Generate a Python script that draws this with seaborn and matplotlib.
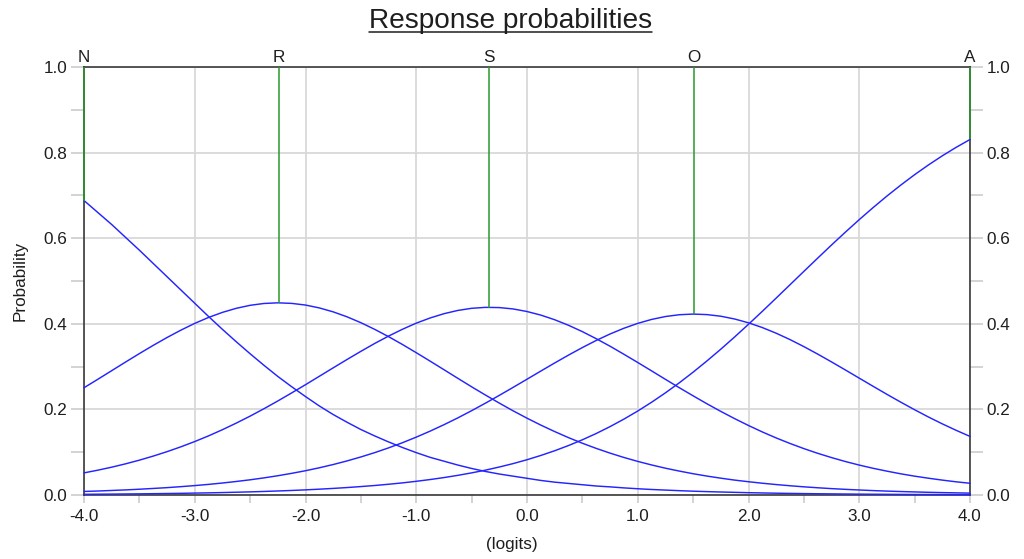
import matplotlib
matplotlib.use("Agg")
import matplotlib.pyplot as plt
from matplotlib.lines import Line2D
from matplotlib.ticker import MultipleLocator, FormatStrFormatter
import seaborn as sns
import pandas as pd

# Category probability curves over the latent measure
logits = [-4.0, -3.875, -3.75, -3.625, -3.5, -3.375, -3.25, -3.125,
          -3.0, -2.875, -2.75, -2.625, -2.5, -2.375, -2.25, -2.125,
          -2.0, -1.875, -1.75, -1.625, -1.5, -1.375, -1.25, -1.125,
          -1.0, -0.875, -0.75, -0.625, -0.5, -0.375, -0.25, -0.125,
          0.0, 0.125, 0.25, 0.375, 0.5, 0.625, 0.75, 0.875,
          1.0, 1.125, 1.25, 1.375, 1.5, 1.625, 1.75, 1.875,
          2.0, 2.125, 2.25, 2.375, 2.5, 2.625, 2.75, 2.875,
          3.0, 3.125, 3.25, 3.375, 3.5, 3.625, 3.75, 3.875, 4.0]
prob_N = [0.688, 0.660, 0.632, 0.602, 0.572, 0.541, 0.510, 0.479,
          0.448, 0.417, 0.387, 0.358, 0.330, 0.303, 0.277, 0.253,
          0.230, 0.208, 0.188, 0.170, 0.153, 0.138, 0.124, 0.111,
          0.099, 0.088, 0.079, 0.070, 0.062, 0.055, 0.049, 0.044,
          0.039, 0.034, 0.030, 0.027, 0.024, 0.021, 0.019, 0.0166,
          0.0146, 0.0129, 0.0115, 0.0101, 0.0089, 0.0079, 0.0070, 0.0062,
          0.0054, 0.0048, 0.0042, 0.0037, 0.0033, 0.0029, 0.0026, 0.0023,
          0.0020, 0.0018, 0.0016, 0.0014, 0.0012, 0.0011, 0.0010, 0.0008, 0.0007]
prob_R = [0.2506, 0.2704, 0.2905, 0.3106, 0.3304, 0.3496, 0.3680, 0.3852,
          0.4010, 0.4149, 0.4267, 0.4362, 0.4432, 0.4475, 0.4490, 0.4477,
          0.4438, 0.4371, 0.4279, 0.4163, 0.4026, 0.3870, 0.3700, 0.3517,
          0.3325, 0.3128, 0.2928, 0.2727, 0.2528, 0.2335, 0.2147, 0.1966,
          0.1795, 0.1633, 0.1482, 0.1340, 0.1209, 0.1089, 0.0978, 0.0877,
          0.0785, 0.0702, 0.0626, 0.0559, 0.0497, 0.0442, 0.0393, 0.0348,
          0.0310, 0.0275, 0.0244, 0.0216, 0.0191, 0.0169, 0.0149, 0.0132,
          0.0117, 0.0103, 0.0091, 0.0081, 0.0072, 0.0063, 0.0056, 0.0050, 0.0044]
prob_S = [0.0517, 0.0580, 0.0650, 0.0728, 0.0814, 0.0909, 0.1013, 0.1126,
          0.1249, 0.1382, 0.1526, 0.1680, 0.1843, 0.2016, 0.2197, 0.2385,
          0.2577, 0.2774, 0.2971, 0.3166, 0.3357, 0.3541, 0.3713, 0.3872,
          0.4015, 0.4136, 0.4236, 0.4312, 0.4362, 0.4384, 0.4379, 0.4347,
          0.4287, 0.4203, 0.4095, 0.3965, 0.3817, 0.3652, 0.3476, 0.3288,
          0.3096, 0.2900, 0.2702, 0.2507, 0.2317, 0.2131, 0.1953, 0.1784,
          0.1624, 0.1473, 0.1333, 0.1204, 0.1084, 0.0974, 0.0874, 0.0782,
          0.0699, 0.0624, 0.0557, 0.0495, 0.0440, 0.0392, 0.0348, 0.0308, 0.0274]
prob_O = [0.0083, 0.0093, 0.0106, 0.0119, 0.0135, 0.0153, 0.0172, 0.0195,
          0.0220, 0.0248, 0.0280, 0.0316, 0.0355, 0.0400, 0.0450, 0.0506,
          0.0567, 0.0636, 0.0712, 0.0796, 0.0889, 0.0990, 0.1101, 0.1221,
          0.1352, 0.1492, 0.1642, 0.1801, 0.1970, 0.2146, 0.2328, 0.2515,
          0.2705, 0.2896, 0.3085, 0.3269, 0.3445, 0.3611, 0.3762, 0.3896,
          0.4010, 0.4102, 0.4170, 0.4212, 0.4227, 0.4215, 0.4177, 0.4112,
          0.4023, 0.3912, 0.3780, 0.3631, 0.3467, 0.3292, 0.3109, 0.2921,
          0.2730, 0.2540, 0.2352, 0.2169, 0.1992, 0.1822, 0.1662, 0.1511, 0.1369]
prob_A = [0.0016, 0.0019, 0.0021, 0.0024, 0.0027, 0.0031, 0.0035, 0.0039,
          0.0045, 0.0050, 0.0057, 0.0065, 0.0073, 0.0083, 0.0094, 0.0106,
          0.0120, 0.0136, 0.0154, 0.0174, 0.0197, 0.0222, 0.0251, 0.0283,
          0.0320, 0.0361, 0.0407, 0.0459, 0.0517, 0.0581, 0.0654, 0.0734,
          0.0824, 0.0924, 0.1034, 0.1156, 0.1290, 0.1437, 0.1598, 0.1773,
          0.1962, 0.2167, 0.2387, 0.2621, 0.2870, 0.3133, 0.3407, 0.3693,
          0.3989, 0.4292, 0.4601, 0.4913, 0.5225, 0.5535, 0.5842, 0.6142,
          0.6434, 0.6715, 0.6985, 0.7241, 0.7484, 0.7712, 0.7925, 0.8123, 0.8306]

# Category markers: label, location of the modal point and its height
cat_labels = ["N", "R", "S", "O", "A"]
cat_pos = [-4.0, -2.24, -0.34, 1.51, 4.0]
cat_peak = [0.688, 0.449, 0.438, 0.423, 0.831]

x_ticks = [-4.0, -3.0, -2.0, -1.0, 0.0, 1.0, 2.0, 3.0, 4.0]
y_ticks = [0.0, 0.2, 0.4, 0.6, 0.8, 1.0]

sns.set_style("white")
plt.rcParams["font.family"] = ["Liberation Sans", "DejaVu Sans"]
plt.rcParams["axes.unicode_minus"] = False

TXT = "#1e1e1e"
GRID = "#d9d9d9"
BLUE = "#2424ff"
GREEN = "#2a9a2a"
FS = 12.3

df = pd.DataFrame({
    "logit": logits * 5,
    "prob": prob_N + prob_R + prob_S + prob_O + prob_A,
    "category": [c for c in cat_labels for _ in logits],
})

fig = plt.figure(figsize=(10.24, 5.59), dpi=100)
ax = fig.add_axes([84 / 1024, 64 / 559, 886 / 1024, 428 / 559])

sns.lineplot(data=df, x="logit", y="prob", hue="category",
             palette=[BLUE] * 5, legend=False, ax=ax, linewidth=1.05,
             clip_on=False, zorder=3)

ax.set_xlim(-4.0, 4.0)
ax.set_ylim(0.0, 1.0)
ax.set_xticks(x_ticks)
ax.set_yticks(y_ticks)
ax.xaxis.set_major_formatter(FormatStrFormatter("%.1f"))
ax.yaxis.set_major_formatter(FormatStrFormatter("%.1f"))
ax.xaxis.set_minor_locator(MultipleLocator(0.5))
ax.yaxis.set_minor_locator(MultipleLocator(0.1))

ax.grid(True, which="major", color=GRID, linewidth=1.3)
ax.set_axisbelow(True)

for side in ["left", "right", "top", "bottom"]:
    ax.spines[side].set_visible(True)
    ax.spines[side].set_color("#3a3a3a")
    ax.spines[side].set_linewidth(1.2)

ax.tick_params(axis="y", which="both", left=True, right=True,
               labelleft=True, labelright=True, length=9.4, width=1.1,
               color="#c8c8c8", pad=2.6, labelsize=FS, labelcolor=TXT)
ax.tick_params(axis="x", which="both", bottom=True, top=False,
               length=5.8, width=1.1, color="#c8c8c8", pad=4.0,
               labelsize=FS, labelcolor=TXT)

ax.set_xlabel("(logits)", fontsize=FS, color=TXT, va="center")
ax.xaxis.set_label_coords((512 - 84) / 886, (495 - 544) / 428)
ax.set_ylabel("Probability", fontsize=FS, color=TXT, va="center")
ax.yaxis.set_label_coords((20 - 84) / 886, 0.5)

# Modal markers from the top edge down to each curve's mode
ax.vlines(cat_pos, cat_peak, 1.0, colors=GREEN, linewidth=1.1,
          zorder=4, clip_on=False)
for lab, xp in zip(cat_labels, cat_pos):
    ax.annotate(lab, xy=(xp, 1.0), xytext=(0, 3.6),
                textcoords="offset points", ha="center", va="baseline",
                fontsize=FS, color=TXT, annotation_clip=False)

# Underlined title
title = fig.text(510.5 / 1024, 1 - 28 / 559, "Response probabilities",
                 ha="center", va="baseline", fontsize=20.2, color=TXT)
fig.canvas.draw()
bb = title.get_window_extent()
uy = (559 - 31.5) / 559
fig.add_artist(Line2D([bb.x0 / 1024, bb.x1 / 1024], [uy, uy],
                      color=TXT, linewidth=1.1))

fig.savefig("out.png", dpi=100)
